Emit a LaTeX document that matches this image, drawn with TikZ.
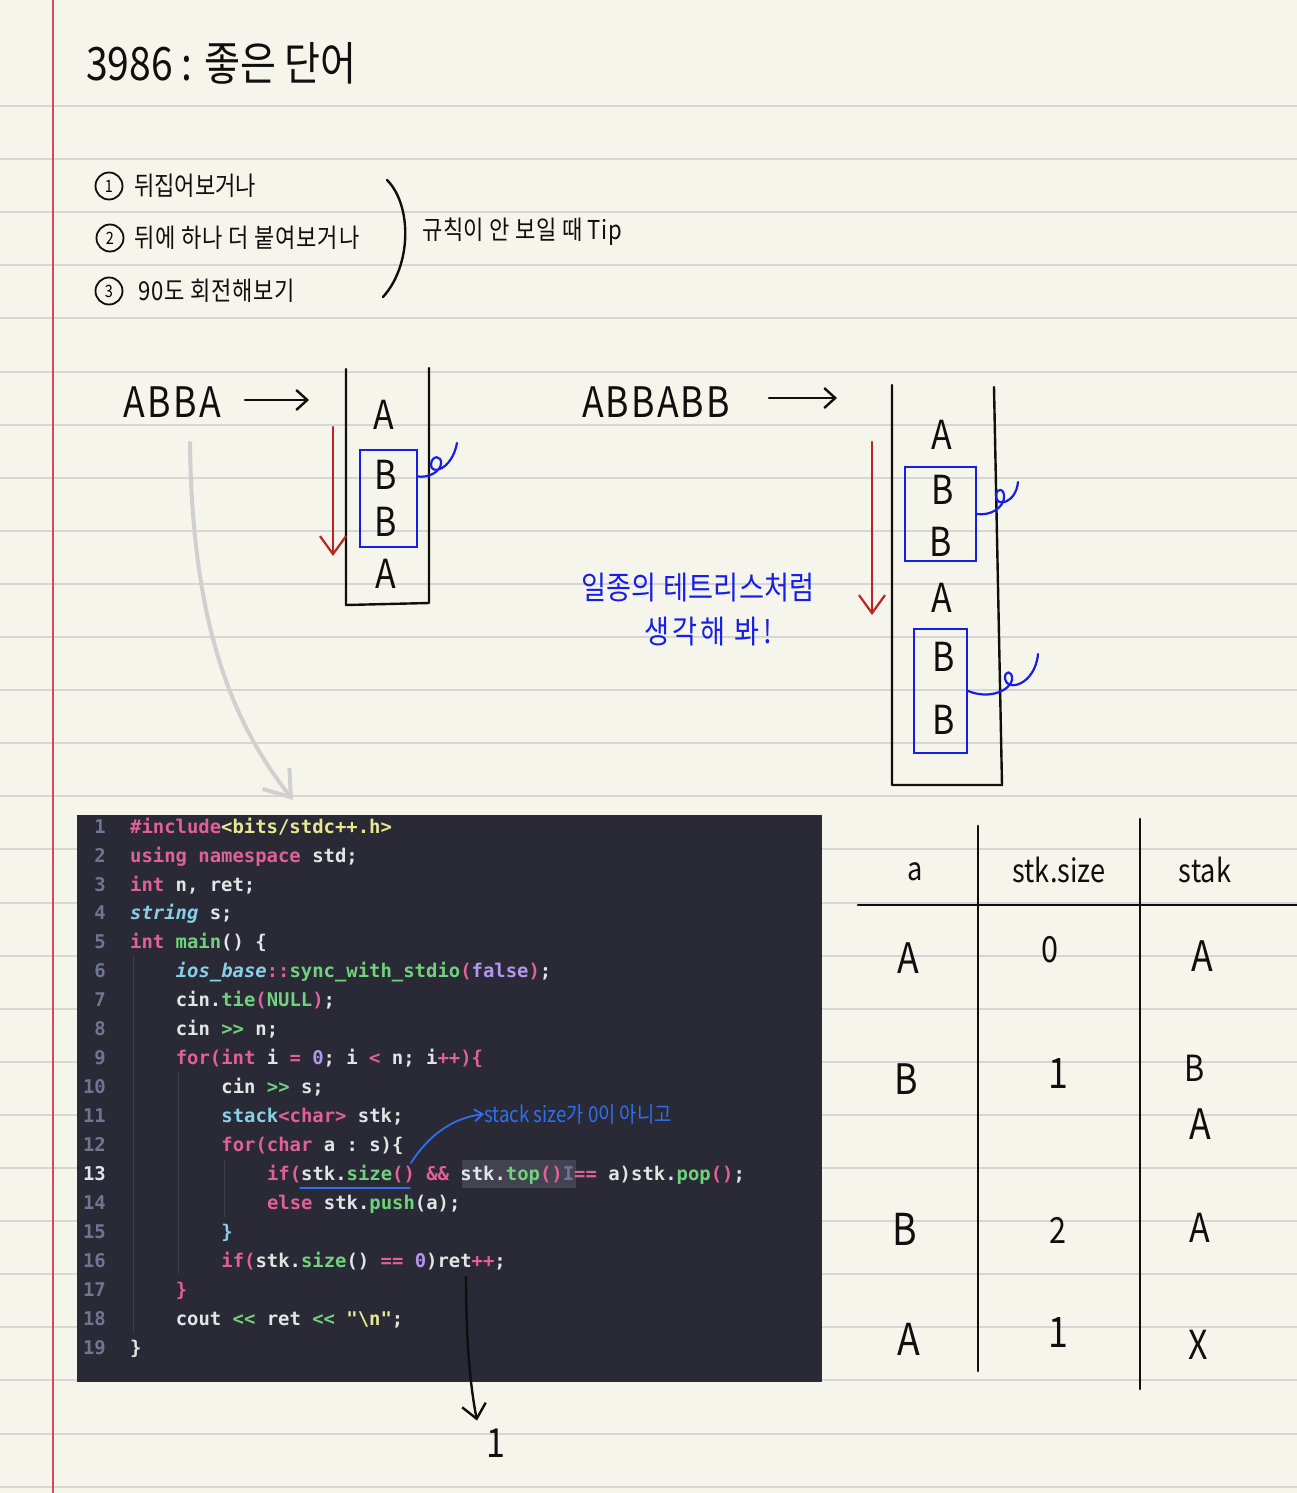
\documentclass[tikz,border=0pt]{standalone}
\usepackage{fontspec}
\usetikzlibrary{arrows.meta}
\newfontfamily\hw[FakeStretch=0.85]{Noto Sans CJK KR}
\setmonofont{DejaVu Sans Mono}
\definecolor{paper}{RGB}{246,245,235}
\definecolor{rulec}{RGB}{214,214,214}
\definecolor{margin}{RGB}{212,74,90}
\definecolor{hblack}{RGB}{15,15,15}
\definecolor{hblue}{RGB}{22,30,232}
\definecolor{hred}{RGB}{190,35,35}
\definecolor{garr}{RGB}{208,208,208}
\definecolor{codebg}{RGB}{42,42,54}
\definecolor{cfg}{RGB}{228,228,228}
\definecolor{ckw}{RGB}{226,96,150}
\definecolor{cfn}{RGB}{112,210,124}
\definecolor{cst}{RGB}{232,232,146}
\definecolor{ccn}{RGB}{180,150,236}
\definecolor{cty}{RGB}{136,208,230}
\definecolor{clnum}{RGB}{112,118,146}
\definecolor{hlbox}{RGB}{66,66,80}
\definecolor{guide}{RGB}{62,62,76}
\definecolor{annblue}{RGB}{45,112,240}
\newcommand\Kw[1]{\textcolor{ckw}{#1}}
\newcommand\Fn[1]{\textcolor{cfn}{#1}}
\newcommand\St[1]{\textcolor{cst}{#1}}
\newcommand\Cn[1]{\textcolor{ccn}{#1}}
\newcommand\Ty[1]{\textcolor{cty}{#1}}
\begin{document}
\begin{tikzpicture}[x=1pt,y=-1pt,
  handtxt/.style={font=\hw\fontsize{#1}{#1}\selectfont, inner sep=0pt, text=hblack},
  bluetxt/.style={font=\hw\fontsize{#1}{#1}\selectfont, inner sep=0pt, text=hblue},
  ink/.style={line width=2.4pt, line cap=round, line join=round, draw=hblack},
  blueink/.style={line width=2.2pt, line cap=round, line join=round, draw=hblue},
  redink/.style={line width=2.2pt, line cap=round, line join=round, draw=hred},
  bluebox/.style={draw=hblue, line width=2.2pt, inner sep=0pt},
  circnum/.style={circle, draw=hblack, line width=1.8pt, minimum size=27pt, inner sep=0pt, font=\hw\fontsize{17}{17}\selectfont},
  harrow/.style={-{Straight Barb[length=11pt,width=20pt]}},
  rule/.style={draw=rulec, line width=2pt},
  codetxt/.style={font=\ttfamily\bfseries\fontsize{18.9}{22}\selectfont, text=cfg, inner sep=0pt, anchor=mid west},
  lnum/.style={font=\ttfamily\bfseries\fontsize{18.9}{22}\selectfont, text=clnum, inner sep=0pt, anchor=mid east},
  guideline/.style={draw=guide, line width=1pt}]
\useasboundingbox (0,0) rectangle (1297,1493);
\fill[paper] (0,0) rectangle (1297,1493);
\foreach \k in {0,...,26} \draw[rule] (0,{106+53.1*\k}) -- (1297,{106+53.1*\k});
\draw[draw=margin, line width=2.5pt] (53,0) -- (53,1493);

% title
\node[handtxt=46, anchor=west] (title) at (86,63) {3986 : 좋은 단어};

% tips
\node[circnum] (n1) at (109,186) {1};
\node[handtxt=26, anchor=west] (t1) at (134,186) {뒤집어보거나};
\node[circnum] (n2) at (110,238) {2};
\node[handtxt=26, anchor=west] (t2) at (134,238) {\addfontfeature{LetterSpace=3}뒤에 하나 더 붙여보거나};
\node[circnum] (n3) at (109,291) {3};
\node[handtxt=26, anchor=west] (t3) at (138,291) {\addfontfeature{LetterSpace=3}90도 회전해보기};
\draw[ink] (387,180) .. controls (412,205) and (412,265) .. (383,297);
\node[handtxt=26, anchor=west] (tip) at (422,232) {\addfontfeature{LetterSpace=2}규칙이 안 보일 때 Tip};

% example 1
\node[handtxt=42] (w1) at (172,402) {\addfontfeature{LetterSpace=6}ABBA};
\coordinate (a1s) at (245,400);
\coordinate (a1e) at (309,400);
\draw[ink, harrow] (a1s) -- (a1e);
\draw[ink] (346,369) -- (346,605) -- (429,603) -- (429,368);
\node[handtxt=40] (s1a) at (384,415) {A};
\node[handtxt=40] (s1b) at (386,475) {B};
\node[handtxt=40] (s1c) at (386,522) {B};
\node[handtxt=40] (s1d) at (386,574) {A};
\node[bluebox, minimum width=57pt, minimum height=97pt] (g1) at (388.5,498.5) {};
\draw[blueink] ([yshift=22pt]g1.east) .. controls (428,478) and (440,472) .. (441,464)
   .. controls (442,455) and (432,455) .. (431,464) .. controls (430,476) and (452,470) .. (457,443);
\coordinate (r1s) at (333,427);
\coordinate (r1e) at (333,556);
\draw[redink, -{Straight Barb[length=18pt,width=26pt]}] (r1s) -- (r1e);

% example 2
\node[handtxt=42] (w2) at (656,402) {\addfontfeature{LetterSpace=5}ABBABB};
\coordinate (a2s) at (769,398);
\coordinate (a2e) at (837,398);
\draw[ink, harrow] (a2s) -- (a2e);
\draw[ink] (892,385) -- (892,785) -- (1002,785) -- (994,387);
\node[handtxt=40] (s2a) at (942,435) {A};
\node[handtxt=40] (s2b) at (943,490) {B};
\node[handtxt=40] (s2c) at (941,542) {B};
\node[handtxt=40] (s2d) at (942,598) {A};
\node[handtxt=40] (s2e) at (944,657) {B};
\node[handtxt=40] (s2f) at (944,720) {B};
\node[bluebox, minimum width=71pt, minimum height=94pt] (g2) at (940.5,514) {};
\node[bluebox, minimum width=53pt, minimum height=124pt] (g3) at (940.5,691) {};
\draw[blueink] (g2.east) .. controls (990,516) and (1003,508) .. (1004,498)
   .. controls (1005,488) and (996,487) .. (996,496) .. controls (996,508) and (1016,503) .. (1018,482);
\draw[blueink] (g3.east) .. controls (990,700) and (1010,690) .. (1012,680)
   .. controls (1013,670) and (1004,670) .. (1005,679) .. controls (1007,692) and (1035,685) .. (1038,654);
\coordinate (r2s) at (872,442);
\coordinate (r2e) at (872,615);
\draw[redink, -{Straight Barb[length=18pt,width=26pt]}] (r2s) -- (r2e);
\node[bluetxt=32] (tet1) at (698,588) {\addfontfeature{LetterSpace=1}일종의 테트리스처럼};
\node[bluetxt=32] (tet2) at (708,632) {\addfontfeature{LetterSpace=10}생각해 봐!};

% gray arrow to code
\coordinate (gs) at (190,443);
\coordinate (ge) at (293,800);
\draw[draw=garr, line width=4pt, line cap=round, -{Straight Barb[length=24pt,width=34pt]}]
  (gs) .. controls (192,620) and (230,720) .. (ge);

% code block
\node[fill=codebg, minimum width=745pt, minimum height=567pt, anchor=north west, inner sep=0pt] (code) at (77,815) {};
\fill[hlbox] (462,1160) rectangle (576,1188);
\draw[guideline] (133,955) -- (133,1334);
\draw[guideline] (178,1072) -- (178,1274);
\draw[guideline] (224,1160) -- (224,1217);
\begin{scope}[yshift=-5pt]
\foreach \n/\yy in {1/826.0,2/854.9,3/883.9,4/912.8,5/941.8,6/970.7,7/999.6,8/1028.6,9/1057.5,10/1086.5,11/1115.4,12/1144.3,14/1202.2,15/1231.2,16/1260.1,17/1289.0,18/1318.0,19/1346.9}
  \node[lnum] (ln\n) at (106,\yy) {\n};
\node[lnum, text=cfg] (ln13) at (106,1173.3) {13};
\node[codetxt] (c1) at (130,826.0) {\Kw{\#include}\St{<bits/stdc++.h>}};
\node[codetxt] (c2) at (130,854.9) {\Kw{using namespace} std;};
\node[codetxt] (c3) at (130,883.9) {\Kw{int} n, ret;};
\node[codetxt] (c4) at (130,912.8) {\Ty{\itshape string} s;};
\node[codetxt] (c5) at (130,941.8) {\Kw{int} \Fn{main}() \{};
\node[codetxt] (c6) at (175.6,970.7) {\Ty{\itshape ios\_base}\Kw{::}\Fn{sync\_with\_stdio}\Kw{(}\Cn{false}\Kw{)};};
\node[codetxt] (c7) at (175.6,999.6) {cin.\Fn{tie}\Kw{(}\Fn{NULL}\Kw{)};};
\node[codetxt] (c8) at (175.6,1028.6) {cin \Fn{>>} n;};
\node[codetxt] (c9) at (175.6,1057.5) {\Kw{for(int} i \Kw{=} \Cn{0}; i \Kw{<} n; i\Kw{++)\{}};
\node[codetxt] (c10) at (221.2,1086.5) {cin \Fn{>>} s;};
\node[codetxt] (c11) at (221.2,1115.4) {\Ty{stack}\Kw{<char>} stk;};
\node[codetxt] (c12) at (221.2,1144.3) {\Kw{for(char} a : s)\{};
\node[codetxt] (c13) at (266.8,1173.3) {\Kw{if(}stk.\Fn{size}\Kw{()} \Kw{\&\&} stk.\Fn{top}\Kw{()}\textcolor{clnum}{I}\Kw{==} a)stk.\Fn{pop}\Kw{()};};
\node[codetxt] (c14) at (266.8,1202.2) {\Kw{else} stk.\Fn{push}(a);};
\node[codetxt] (c15) at (221.2,1231.2) {\Ty{\}}};
\node[codetxt] (c16) at (221.2,1260.1) {\Kw{if(}stk.\Fn{size}() \Kw{==} \Cn{0})ret\Kw{++};};
\node[codetxt] (c17) at (175.6,1289.0) {\Kw{\}}};
\node[codetxt] (c18) at (175.6,1318.0) {cout \Fn{<<} ret \Fn{<<} \St{"\textbackslash n"};};
\node[codetxt] (c19) at (130,1346.9) {\}};
\end{scope}

% annotation on code
\draw[draw=annblue, line width=2pt, line cap=round] (300,1188) -- (410,1188);
\node[font=\hw\fontsize{22}{22}\selectfont, text=annblue, inner sep=0pt, anchor=west] (ann) at (484,1114) {stack size가 0이 아니고};
\draw[draw=annblue, line width=1.8pt, line cap=round, -{Straight Barb[length=8pt,width=12pt]}]
  (411,1163) .. controls (428,1136) and (452,1118) .. (ann.west);

% result arrow
\coordinate (bs) at (466,1277);
\node[handtxt=40] (one) at (496,1443) {1};
\draw[ink, -{Straight Barb[length=14pt,width=24pt]}] (bs) .. controls (466,1330) and (469,1380) .. ([xshift=-19pt,yshift=8pt]one.north);

% table
\draw[ink, line width=2.8pt] (858,905) -- (1297,905);
\draw[ink, line width=2.8pt] (978,826) -- (978,1371);
\draw[ink, line width=2.8pt] (1140,819) -- (1140,1389);
\node[handtxt=32] (ha) at (915,872) {a};
\node[handtxt=32] (hs) at (1059,870) {stk.size};
\node[handtxt=32] (hk) at (1205,870) {stak};
\node[handtxt=42] (r1a) at (908,958) {A};
\node[handtxt=36] (r1s) at (1050,950) {0};
\node[handtxt=42] (r1k) at (1202,956) {A};
\node[handtxt=42] (r2a) at (906,1079) {B};
\node[handtxt=42] (r2s) at (1058,1074) {1};
\node[handtxt=36] (r2k) at (1195,1068) {B};
\node[handtxt=42] (r2k2) at (1200,1124) {A};
\node[handtxt=44] (r3a) at (905,1229) {B};
\node[handtxt=36] (r3s) at (1058,1230) {2};
\node[handtxt=40] (r3k) at (1200,1228) {A};
\node[handtxt=44] (r4a) at (909,1339) {A};
\node[handtxt=42] (r4s) at (1058,1333) {1};
\node[handtxt=40] (r4k) at (1198,1345) {X};
\end{tikzpicture}
\end{document}
